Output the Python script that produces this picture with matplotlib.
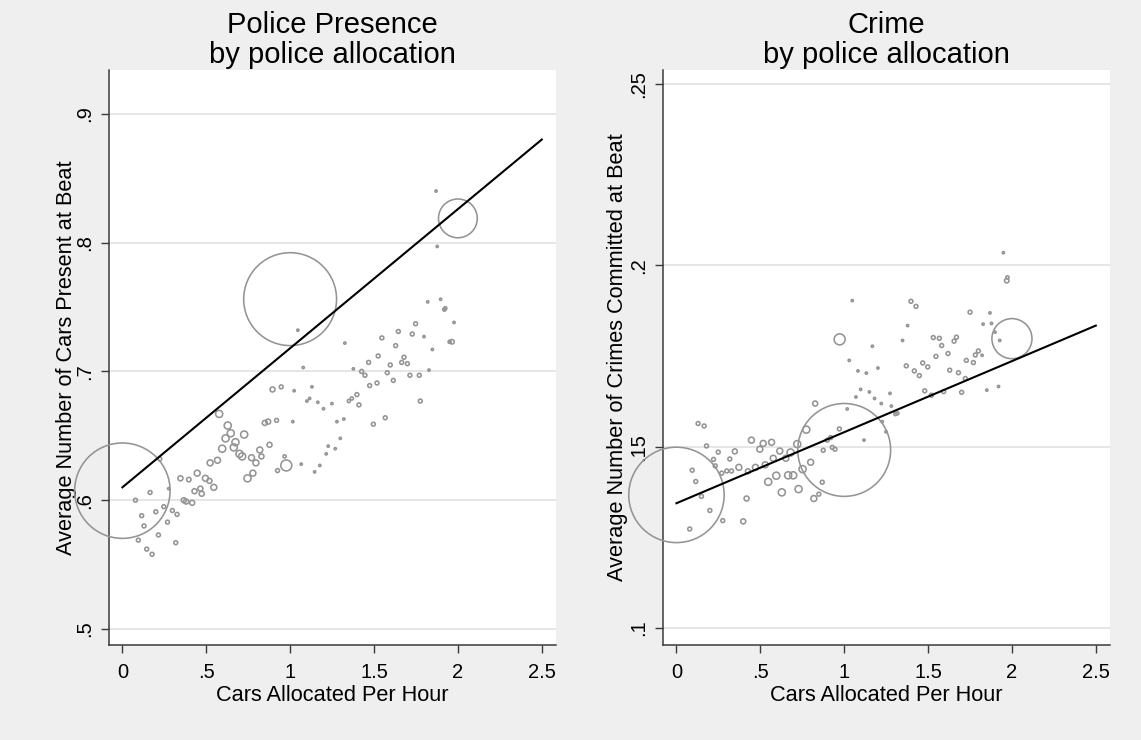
import matplotlib
matplotlib.use("Agg")
import matplotlib.pyplot as plt
import numpy as np

plt.rcParams['font.family'] = ['Liberation Sans', 'DejaVu Sans']

# ---- data ----
# left panel: police presence (x = cars allocated per hour, y = cars present, n = weight)
pres_x = [0.0, 1.0, 2.0, 0.977,
          0.078, 0.165, 0.223, 0.276, 0.115, 0.129, 0.199, 0.247, 0.298, 0.326, 0.269, 0.215,
          0.095, 0.145, 0.177, 0.318, 0.346, 0.396, 0.446, 0.366, 0.380, 0.416, 0.430, 0.465,
          0.473, 0.495, 0.519, 0.545, 0.523, 0.567, 0.577, 0.628, 0.646, 0.615, 0.674, 0.726,
          0.595, 0.664, 0.698, 0.714, 0.770, 0.819, 0.829, 0.796, 0.746, 0.778, 0.877, 0.849,
          0.869, 0.919, 0.895, 0.947, 1.024, 1.130, 1.016, 0.967, 0.925, 1.066, 1.100, 1.116,
          1.165, 1.199, 1.249, 1.279, 1.320, 1.299, 1.227, 1.269, 1.215, 1.177, 1.146, 1.350,
          1.368, 1.398, 1.410,
          1.870, 1.877, 1.820, 1.897, 1.919, 1.925, 1.977, 1.965, 1.951, 1.748, 1.645, 1.728,
          1.798, 1.547, 1.629, 1.848, 1.326, 1.046, 1.525, 1.468, 1.679, 1.665, 1.699, 1.597,
          1.579, 1.615, 1.714, 1.770, 1.828, 1.776, 1.377, 1.426, 1.446, 1.518, 1.474, 1.078,
          1.496, 1.567]
pres_y = [0.6074, 0.7561, 0.8188, 0.627,
          0.600, 0.606, 0.632, 0.609, 0.588, 0.580, 0.591, 0.595, 0.592, 0.589, 0.583, 0.573,
          0.569, 0.562, 0.558, 0.567, 0.617, 0.616, 0.621, 0.600, 0.599, 0.598, 0.607, 0.609,
          0.605, 0.617, 0.615, 0.610, 0.629, 0.631, 0.667, 0.658, 0.652, 0.648, 0.645, 0.651,
          0.640, 0.641, 0.636, 0.634, 0.633, 0.639, 0.634, 0.629, 0.617, 0.621, 0.643, 0.660,
          0.661, 0.662, 0.686, 0.688, 0.685, 0.688, 0.661, 0.634, 0.623, 0.628, 0.677, 0.679,
          0.676, 0.671, 0.675, 0.661, 0.663, 0.648, 0.642, 0.640, 0.636, 0.627, 0.622, 0.677,
          0.679, 0.682, 0.674,
          0.840, 0.797, 0.754, 0.756, 0.748, 0.749, 0.738, 0.723, 0.723, 0.737, 0.731, 0.729,
          0.727, 0.726, 0.720, 0.717, 0.722, 0.732, 0.712, 0.707, 0.711, 0.707, 0.706, 0.705,
          0.699, 0.693, 0.697, 0.697, 0.701, 0.677, 0.702, 0.700, 0.697, 0.691, 0.689, 0.703,
          0.659, 0.664]
pres_n = [1815, 1720, 300, 24,
          3, 3, 3, 1, 3, 3, 3, 3, 3, 3, 3, 3,
          3, 3, 3, 3, 5, 4, 7, 5, 5, 5, 5, 5,
          5, 7, 5, 7, 7, 7, 10, 10, 10, 10, 10, 10,
          10, 10, 10, 10, 7, 7, 5, 7, 10, 7, 5, 5,
          5, 3, 5, 3, 1, 1, 1, 2, 3, 1, 1, 1,
          1, 1, 1, 1, 1, 1, 1, 1, 1, 1, 1, 2,
          2, 3, 3,
          1, 1, 1, 1, 2, 2, 1, 4, 2, 3, 3, 3,
          1, 3, 3, 1, 1, 1, 3, 3, 3, 3, 3, 3,
          3, 3, 3, 3, 1, 3, 1, 3, 3, 3, 3, 1,
          3, 3]
pres_fit_x = [0.0, 2.5]
pres_fit_y = [0.610, 0.880]

# right panel: crime
crime_x = [0.0, 1.0, 2.0, 0.973,
           0.129, 0.165, 0.179, 0.249, 0.221, 0.231, 0.270, 0.300, 0.328, 0.318, 0.348, 0.372,
           0.094, 0.115, 0.149, 0.199, 0.079, 0.276, 0.398, 0.418, 0.426, 0.471, 0.447, 0.497,
           0.517, 0.567, 0.529, 0.577, 0.616, 0.652, 0.547, 0.595, 0.628, 0.666, 0.696, 0.680,
           0.728, 0.752, 0.720, 0.774, 0.800, 0.819, 0.849, 0.869, 0.827, 0.875, 0.899, 0.919,
           0.929, 0.945, 0.971, 1.018, 1.118, 1.030, 1.082, 1.132, 1.201, 1.098, 1.150, 1.070,
           1.181, 1.221, 1.273, 1.281, 1.227, 1.249, 1.317, 1.305,
           1.949, 1.969, 1.973, 1.048, 1.398, 1.428, 1.378, 1.348, 1.168, 1.750, 1.869, 1.828,
           1.878, 1.899, 1.927, 1.531, 1.567, 1.581, 1.655, 1.669, 1.619, 1.547, 1.800, 1.782,
           1.822, 1.728, 1.770, 1.468, 1.498, 1.370, 1.418, 1.448, 1.629, 1.681, 1.722, 1.480,
           1.520, 1.593, 1.700, 1.850, 1.920]
crime_y = [0.1367, 0.1491, 0.1798, 0.1796,
           0.1564, 0.1557, 0.1502, 0.1485, 0.1465, 0.1447, 0.1427, 0.1433, 0.1433, 0.1466, 0.1487, 0.1443,
           0.1435, 0.1404, 0.1363, 0.1324, 0.1273, 0.1296, 0.1294, 0.1357, 0.1432, 0.1443, 0.1518, 0.1493,
           0.1509, 0.1512, 0.1450, 0.1468, 0.1488, 0.1468, 0.1403, 0.1420, 0.1374, 0.1421, 0.1421, 0.1484,
           0.1383, 0.1438, 0.1507, 0.1547, 0.1457, 0.1357, 0.1369, 0.1402, 0.1619, 0.1490, 0.1518, 0.1525,
           0.1498, 0.1493, 0.1549, 0.1604, 0.1518, 0.1738, 0.1709, 0.1703, 0.1717, 0.1658, 0.1651, 0.1637,
           0.1633, 0.1619, 0.1647, 0.1612, 0.1569, 0.1541, 0.1592, 0.1590,
           0.2035, 0.1958, 0.1967, 0.1903, 0.1901, 0.1887, 0.1834, 0.1793, 0.1777, 0.1871, 0.1869, 0.1838,
           0.1840, 0.1816, 0.1793, 0.1801, 0.1799, 0.1779, 0.1791, 0.1802, 0.1757, 0.1749, 0.1764, 0.1753,
           0.1752, 0.1738, 0.1732, 0.1731, 0.1720, 0.1723, 0.1709, 0.1696, 0.1711, 0.1704, 0.1688, 0.1654,
           0.1642, 0.1652, 0.1650, 0.1656, 0.1666]
crime_n = [1815, 1720, 320, 24,
           3, 3, 3, 3, 3, 3, 3, 3, 3, 3, 5, 7,
           3, 3, 3, 3, 3, 3, 5, 5, 5, 7, 7, 7,
           7, 7, 7, 7, 7, 7, 10, 10, 10, 10, 10, 10,
           10, 10, 10, 10, 7, 7, 3, 3, 5, 3, 3, 3,
           3, 3, 3, 1, 1, 1, 1, 1, 1, 1, 1, 1,
           1, 1, 1, 1, 1, 1, 2, 2,
           1, 4, 2, 1, 3, 3, 1, 1, 1, 3, 1, 1,
           1, 1, 1, 3, 3, 3, 3, 3, 3, 3, 3, 3,
           1, 3, 3, 3, 3, 3, 3, 3, 3, 3, 3, 3,
           3, 3, 3, 1, 1]
crime_fit_x = [0.0, 2.5]
crime_fit_y = [0.1344, 0.1834]

x_ticks = [0, 0.5, 1, 1.5, 2, 2.5]
x_ticklabels = ['0', '.5', '1', '1.5', '2', '2.5']
pres_yticks = [0.5, 0.6, 0.7, 0.8, 0.9]
pres_yticklabels = ['.5', '.6', '.7', '.8', '.9']
crime_yticks = [0.10, 0.15, 0.20, 0.25]
crime_yticklabels = ['.1', '.15', '.2', '.25']

bg = '#EFEFEF'
mk = '#949494'

fig = plt.figure(figsize=(11.41, 7.40), dpi=100, facecolor=bg)
ax1 = fig.add_axes([0.0955, 0.1284, 0.3918, 0.777])
ax2 = fig.add_axes([0.5811, 0.1284, 0.3918, 0.777])


def panel(ax, x, y, n, fx, fy, yticks, yticklabels, ylim, title, ylabel, ylab_x):
    ax.set_facecolor('white')
    ax.scatter(x, y, s=np.array(n) * 2.6, facecolors='none', edgecolors=mk,
               linewidths=1.15, zorder=3, clip_on=False)
    ax.plot(fx, fy, color='black', lw=1.5, zorder=4)
    ax.set_xlim(-0.08, 2.585)
    ax.set_ylim(*ylim)
    ax.set_xticks(x_ticks)
    ax.set_xticklabels(x_ticklabels)
    ax.set_yticks(yticks)
    ax.set_yticklabels(yticklabels, rotation=90, va='center')
    ax.grid(axis='y', color='#E6E6E6', lw=1.4, zorder=0)
    ax.set_axisbelow(True)
    for s in ['top', 'right']:
        ax.spines[s].set_visible(False)
    for s in ['left', 'bottom']:
        ax.spines[s].set_color('#3A3A3A')
        ax.spines[s].set_linewidth(1.1)
    ax.tick_params(direction='out', length=6, width=1.0, color='#3A3A3A',
                   labelsize=14.5)
    ax.tick_params(axis='x', pad=7)
    ax.tick_params(axis='y', pad=5)
    ax.set_xlabel('Cars Allocated Per Hour', fontsize=15.7, labelpad=2)
    ax.set_ylabel(ylabel, fontsize=15.7)
    ax.yaxis.set_label_coords(ylab_x, 0.5)
    ax.set_title(title, fontsize=21, pad=5, linespacing=1.1)


panel(ax1, pres_x, pres_y, pres_n, pres_fit_x, pres_fit_y, pres_yticks,
      pres_yticklabels, (0.4876, 0.934), 'Police Presence\nby police allocation',
      'Average Number of Cars Present at Beat', -0.072)
panel(ax2, crime_x, crime_y, crime_n, crime_fit_x, crime_fit_y, crime_yticks,
      crime_yticklabels, (0.0953, 0.2539), 'Crime\nby police allocation',
      'Average Number of Crimes Committed at Beat', -0.078)

fig.savefig('out.png', dpi=100, facecolor=bg)
